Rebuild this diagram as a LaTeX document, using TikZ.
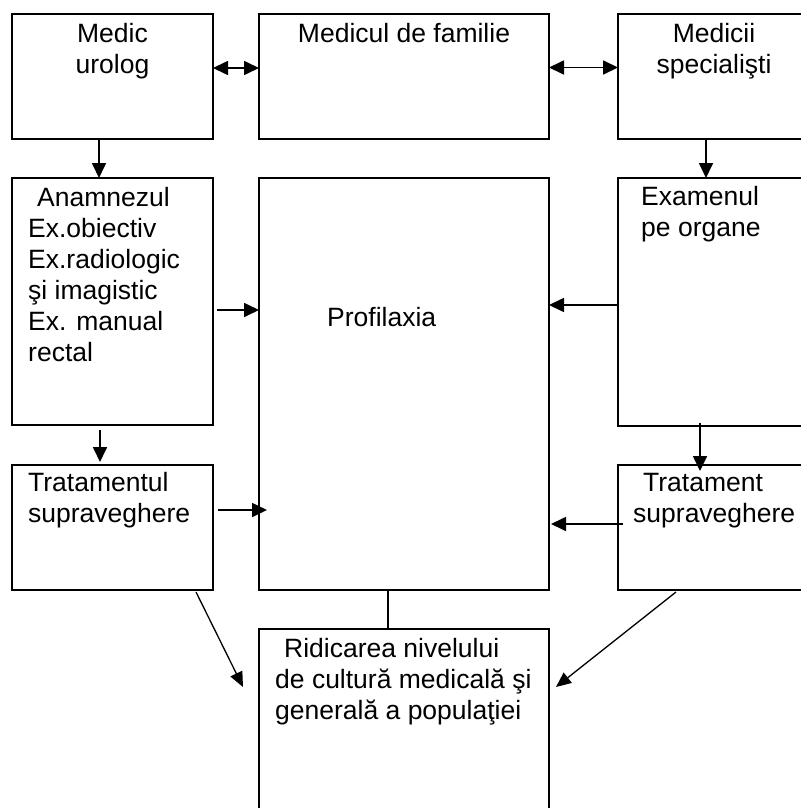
\documentclass[tikz,border=0pt]{standalone}
\usepackage{fontspec}
\setmainfont{Liberation Sans}
\usetikzlibrary{arrows.meta,positioning}

\begin{document}
\begin{tikzpicture}[
  x=1pt, y=-1pt,
  font=\fontsize{26.5}{31}\selectfont,
  box/.style={draw=black, line width=2.8pt, inner sep=0pt, outer sep=0pt},
  txt/.style={align=left, inner sep=0pt, anchor=north west},
  ctxt/.style={align=center, inner sep=0pt, anchor=north},
  arr/.style={-{Triangle[length=15pt,width=14pt]}, line width=1.7pt},
  darr/.style={{Triangle[length=15pt,width=14pt]}-{Triangle[length=15pt,width=14pt]}, line width=1.7pt},
  slant/.style={-{Triangle[length=15pt,width=13pt]}, line width=1.3pt},
  link/.style={line width=1.5pt}
]
\useasboundingbox (0,0) rectangle (800,808);

% top row
\node[box, minimum width=201pt, minimum height=125pt, anchor=north west] (urolog) at (12,14) {};
\node[box, minimum width=290pt, minimum height=125pt, right=46pt of urolog] (familie) {};
\node[box, minimum width=192pt, minimum height=125pt, right=69pt of familie] (spec) {};

% middle row
\node[box, minimum width=201pt, minimum height=247pt, below=39pt of urolog.south west, anchor=north west] (anamnez) {};
\node[box, minimum width=290pt, minimum height=412pt, below=39pt of familie.south west, anchor=north west] (profil) {};
\node[box, minimum width=192pt, minimum height=248pt, below=39pt of spec.south west, anchor=north west] (examen) {};

% lower row
\node[box, minimum width=201pt, minimum height=125pt, below=40pt of anamnez.south west, anchor=north west] (tratL) {};
\node[box, minimum width=192pt, minimum height=125pt, below=39pt of examen.south west, anchor=north west] (tratR) {};
\node[box, minimum width=290pt, minimum height=200pt, below=39pt of profil.south west, anchor=north west] (ridic) {};

% texts
\node[ctxt] (urologtxt) at ([yshift=-9pt]urolog.north) {Medic\\urolog};
\node[ctxt] (familietxt) at ([yshift=-9pt]familie.north) {Medicul de familie};
\node[ctxt] (spectxt) at ([yshift=-9pt]spec.north) {Medicii\\specialişti};
\node[txt] (anamneztxt) at ([shift={(16pt,-9pt)}]anamnez.north west) {\hspace*{9pt}Anamnezul\\Ex.obiectiv\\Ex.radiologic\\şi imagistic\\Ex. manual\\rectal};
\node[anchor=base west, inner sep=0pt] (profiltxt) at ([shift={(68pt,-148pt)}]profil.north west) {Profilaxia};
\node[txt] (examentxt) at ([shift={(23pt,-8.5pt)}]examen.north west) {Examenul\\pe organe};
\node[txt] (tratLtxt) at ([shift={(16pt,-7.5pt)}]tratL.north west) {Tratamentul\\supraveghere};
\node[txt] (tratRtxt) at ([shift={(15pt,-8pt)}]tratR.north west) {\hspace*{10pt}Tratament\\supraveghere};
\node[txt] (ridictxt) at ([shift={(16pt,-9pt)}]ridic.north west) {\hspace*{9pt}Ridicarea nivelului\\de cultură medicală şi\\generală a populaţiei};

% connectors
\draw[darr] ([yshift=8.5pt]urolog.east) -- ([yshift=8.5pt]familie.west);
\draw[darr] ([yshift=9pt]familie.east) -- ([yshift=9pt]spec.west);
\draw[arr] ([xshift=-13.5pt]urolog.south) -- ([xshift=-13.5pt]anamnez.north);
\draw[arr] ([xshift=-8pt]spec.south) -- ([xshift=-8pt]examen.north);
\draw[arr] ([shift={(4pt,-8.5pt)}]anamnez.east) -- ([yshift=-8.5pt]anamnez.east -| profil.west);
\draw[arr] ([yshift=-3pt]examen.west) -- ([yshift=-3pt]examen.west -| profil.east);
\draw[arr] ([shift={(-12.5pt,-5pt)}]anamnez.south) -- ([shift={(-12.5pt,3pt)}]tratL.north);
\draw[arr] ([shift={(-14pt,3pt)}]examen.south) -- ([shift={(-14pt,-6pt)}]tratR.north);
\draw[arr] ([shift={(5pt,17.5pt)}]tratL.east) -- ([shift={(8pt,17.5pt)}]tratL.east -| profil.west);
\draw[arr] ([shift={(5pt,3.5pt)}]tratR.west) -- ([shift={(2pt,3.5pt)}]tratR.west -| profil.east);
\draw[slant] ([shift={(-17pt,-2pt)}]tratL.south east) -- ([shift={(-16pt,-58pt)}]ridic.north west);
\draw[slant] ([shift={(58pt,-2pt)}]tratR.south west) -- ([shift={(7pt,-58pt)}]ridic.north east);
\draw[link] ([xshift=-16pt]profil.south) -- ([xshift=-16pt]ridic.north);
\end{tikzpicture}
\end{document}
